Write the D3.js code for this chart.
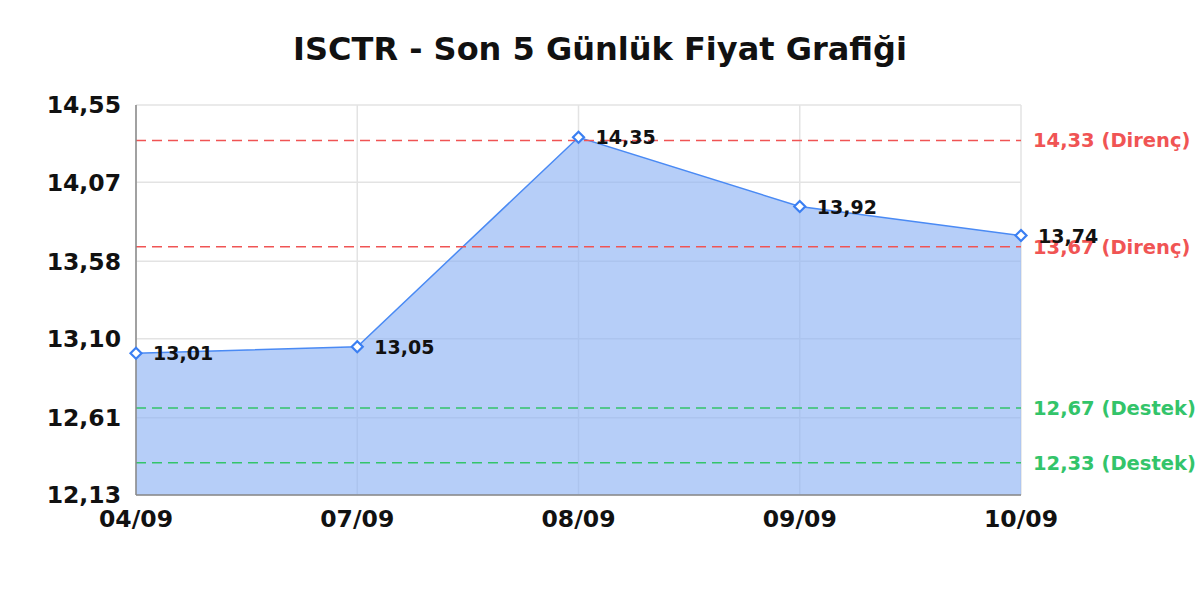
<!DOCTYPE html>
<html>
<head>
<meta charset="utf-8">
<script src="https://cdn.jsdelivr.net/npm/d3@7"></script>
<style>
    body { margin: 0; background: #fff; }
    svg { display: block; font-family: "DejaVu Sans", sans-serif; }
</style>
</head>
<body>
<svg id="chart" width="1200" height="600"></svg>
<script>
"use strict";

var dates = ["04/09", "07/09", "08/09", "09/09", "10/09"];
var prices = [13.01, 13.05, 14.35, 13.92, 13.74];
var yTicks = [12.13, 12.61, 13.10, 13.58, 14.07, 14.55];
var resistance = [14.33, 13.67];
var support = [12.67, 12.33];

var MARGIN = { left: 136, right: 179, top: 105, bottom: 105 };
var WIDTH = 1200 - MARGIN.left - MARGIN.right;
var HEIGHT = 600 - MARGIN.top - MARGIN.bottom;

var fmt = function(v) {
    return v.toFixed(2).replace(".", ",");
};

var svg = d3.select("#chart");

svg.append("text")
    .attr("x", 600)
    .attr("y", 60)
    .attr("text-anchor", "middle")
    .attr("font-size", 32)
    .attr("font-weight", "bold")
    .attr("fill", "#111")
    .text("ISCTR - Son 5 Günlük Fiyat Grafiği");

var g = svg.append("g")
    .attr("transform", "translate(" + MARGIN.left + "," + MARGIN.top + ")");

var x = d3.scalePoint().domain(dates).range([0, WIDTH]);
var y = d3.scaleLinear().domain([yTicks[0], yTicks[yTicks.length - 1]]).range([HEIGHT, 0]);

// grid
g.append("g").selectAll("line")
    .data(yTicks)
    .enter().append("line")
    .attr("x1", 0).attr("x2", WIDTH)
    .attr("y1", function(d) { return y(d); })
    .attr("y2", function(d) { return y(d); })
    .attr("stroke", "#e3e3e3")
    .attr("stroke-width", 1.5);

g.append("g").selectAll("line")
    .data(dates)
    .enter().append("line")
    .attr("x1", function(d) { return x(d); })
    .attr("x2", function(d) { return x(d); })
    .attr("y1", 0).attr("y2", HEIGHT)
    .attr("stroke", "#e3e3e3")
    .attr("stroke-width", 1.5);

// area + line
var points = dates.map(function(d, i) { return { date: d, value: prices[i] }; });

g.append("path")
    .datum(points)
    .attr("fill", "#8fb4f5")
    .attr("fill-opacity", 0.65)
    .attr("d", d3.area()
        .x(function(d) { return x(d.date); })
        .y0(HEIGHT)
        .y1(function(d) { return y(d.value); }));

g.append("path")
    .datum(points)
    .attr("fill", "none")
    .attr("stroke", "#4a8af4")
    .attr("stroke-width", 1.5)
    .attr("d", d3.line()
        .x(function(d) { return x(d.date); })
        .y(function(d) { return y(d.value); }));

// reference lines
var refs = resistance.map(function(v) { return { value: v, label: "Direnç", color: "#f05454" }; })
    .concat(support.map(function(v) { return { value: v, label: "Destek", color: "#33c46a" }; }));

var refG = g.append("g").selectAll("g")
    .data(refs)
    .enter().append("g");

refG.append("line")
    .attr("x1", 0).attr("x2", WIDTH)
    .attr("y1", function(d) { return y(d.value); })
    .attr("y2", function(d) { return y(d.value); })
    .attr("stroke", function(d) { return d.color; })
    .attr("stroke-width", 1.5)
    .attr("stroke-dasharray", "10,6");

refG.append("text")
    .attr("x", WIDTH + 12)
    .attr("y", function(d) { return y(d.value) + 7; })
    .attr("font-size", 19.5)
    .attr("font-weight", "bold")
    .attr("fill", function(d) { return d.color; })
    .text(function(d) { return fmt(d.value) + " (" + d.label + ")"; });

// axes lines
g.append("line")
    .attr("x1", 0).attr("x2", 0)
    .attr("y1", 0).attr("y2", HEIGHT)
    .attr("stroke", "#888")
    .attr("stroke-width", 1.5);

g.append("line")
    .attr("x1", 0).attr("x2", WIDTH)
    .attr("y1", HEIGHT).attr("y2", HEIGHT)
    .attr("stroke", "#888")
    .attr("stroke-width", 1.5);

// tick labels
g.append("g").selectAll("text")
    .data(yTicks)
    .enter().append("text")
    .attr("x", -15)
    .attr("y", function(d) { return y(d); })
    .attr("dy", "0.36em")
    .attr("text-anchor", "end")
    .attr("font-size", 23.5)
    .attr("font-weight", "bold")
    .attr("fill", "#111")
    .text(fmt);

g.append("g").selectAll("text")
    .data(dates)
    .enter().append("text")
    .attr("x", function(d) { return x(d); })
    .attr("y", HEIGHT + 32)
    .attr("text-anchor", "middle")
    .attr("font-size", 23.5)
    .attr("font-weight", "bold")
    .attr("fill", "#111")
    .text(function(d) { return d; });

// markers
g.append("g").selectAll("path")
    .data(points)
    .enter().append("path")
    .attr("transform", function(d) { return "translate(" + x(d.date) + "," + y(d.value) + ")"; })
    .attr("d", "M0,-5.5L5.5,0L0,5.5L-5.5,0Z")
    .attr("fill", "#fff")
    .attr("stroke", "#3b7ff2")
    .attr("stroke-width", 2.2);

// value labels
g.append("g").selectAll("text")
    .data(points)
    .enter().append("text")
    .attr("x", function(d) { return x(d.date) + 17; })
    .attr("y", function(d) { return y(d.value) + 7; })
    .attr("font-size", 19)
    .attr("font-weight", "bold")
    .attr("fill", "#111")
    .text(function(d) { return fmt(d.value); });
</script>
</body>
</html>
